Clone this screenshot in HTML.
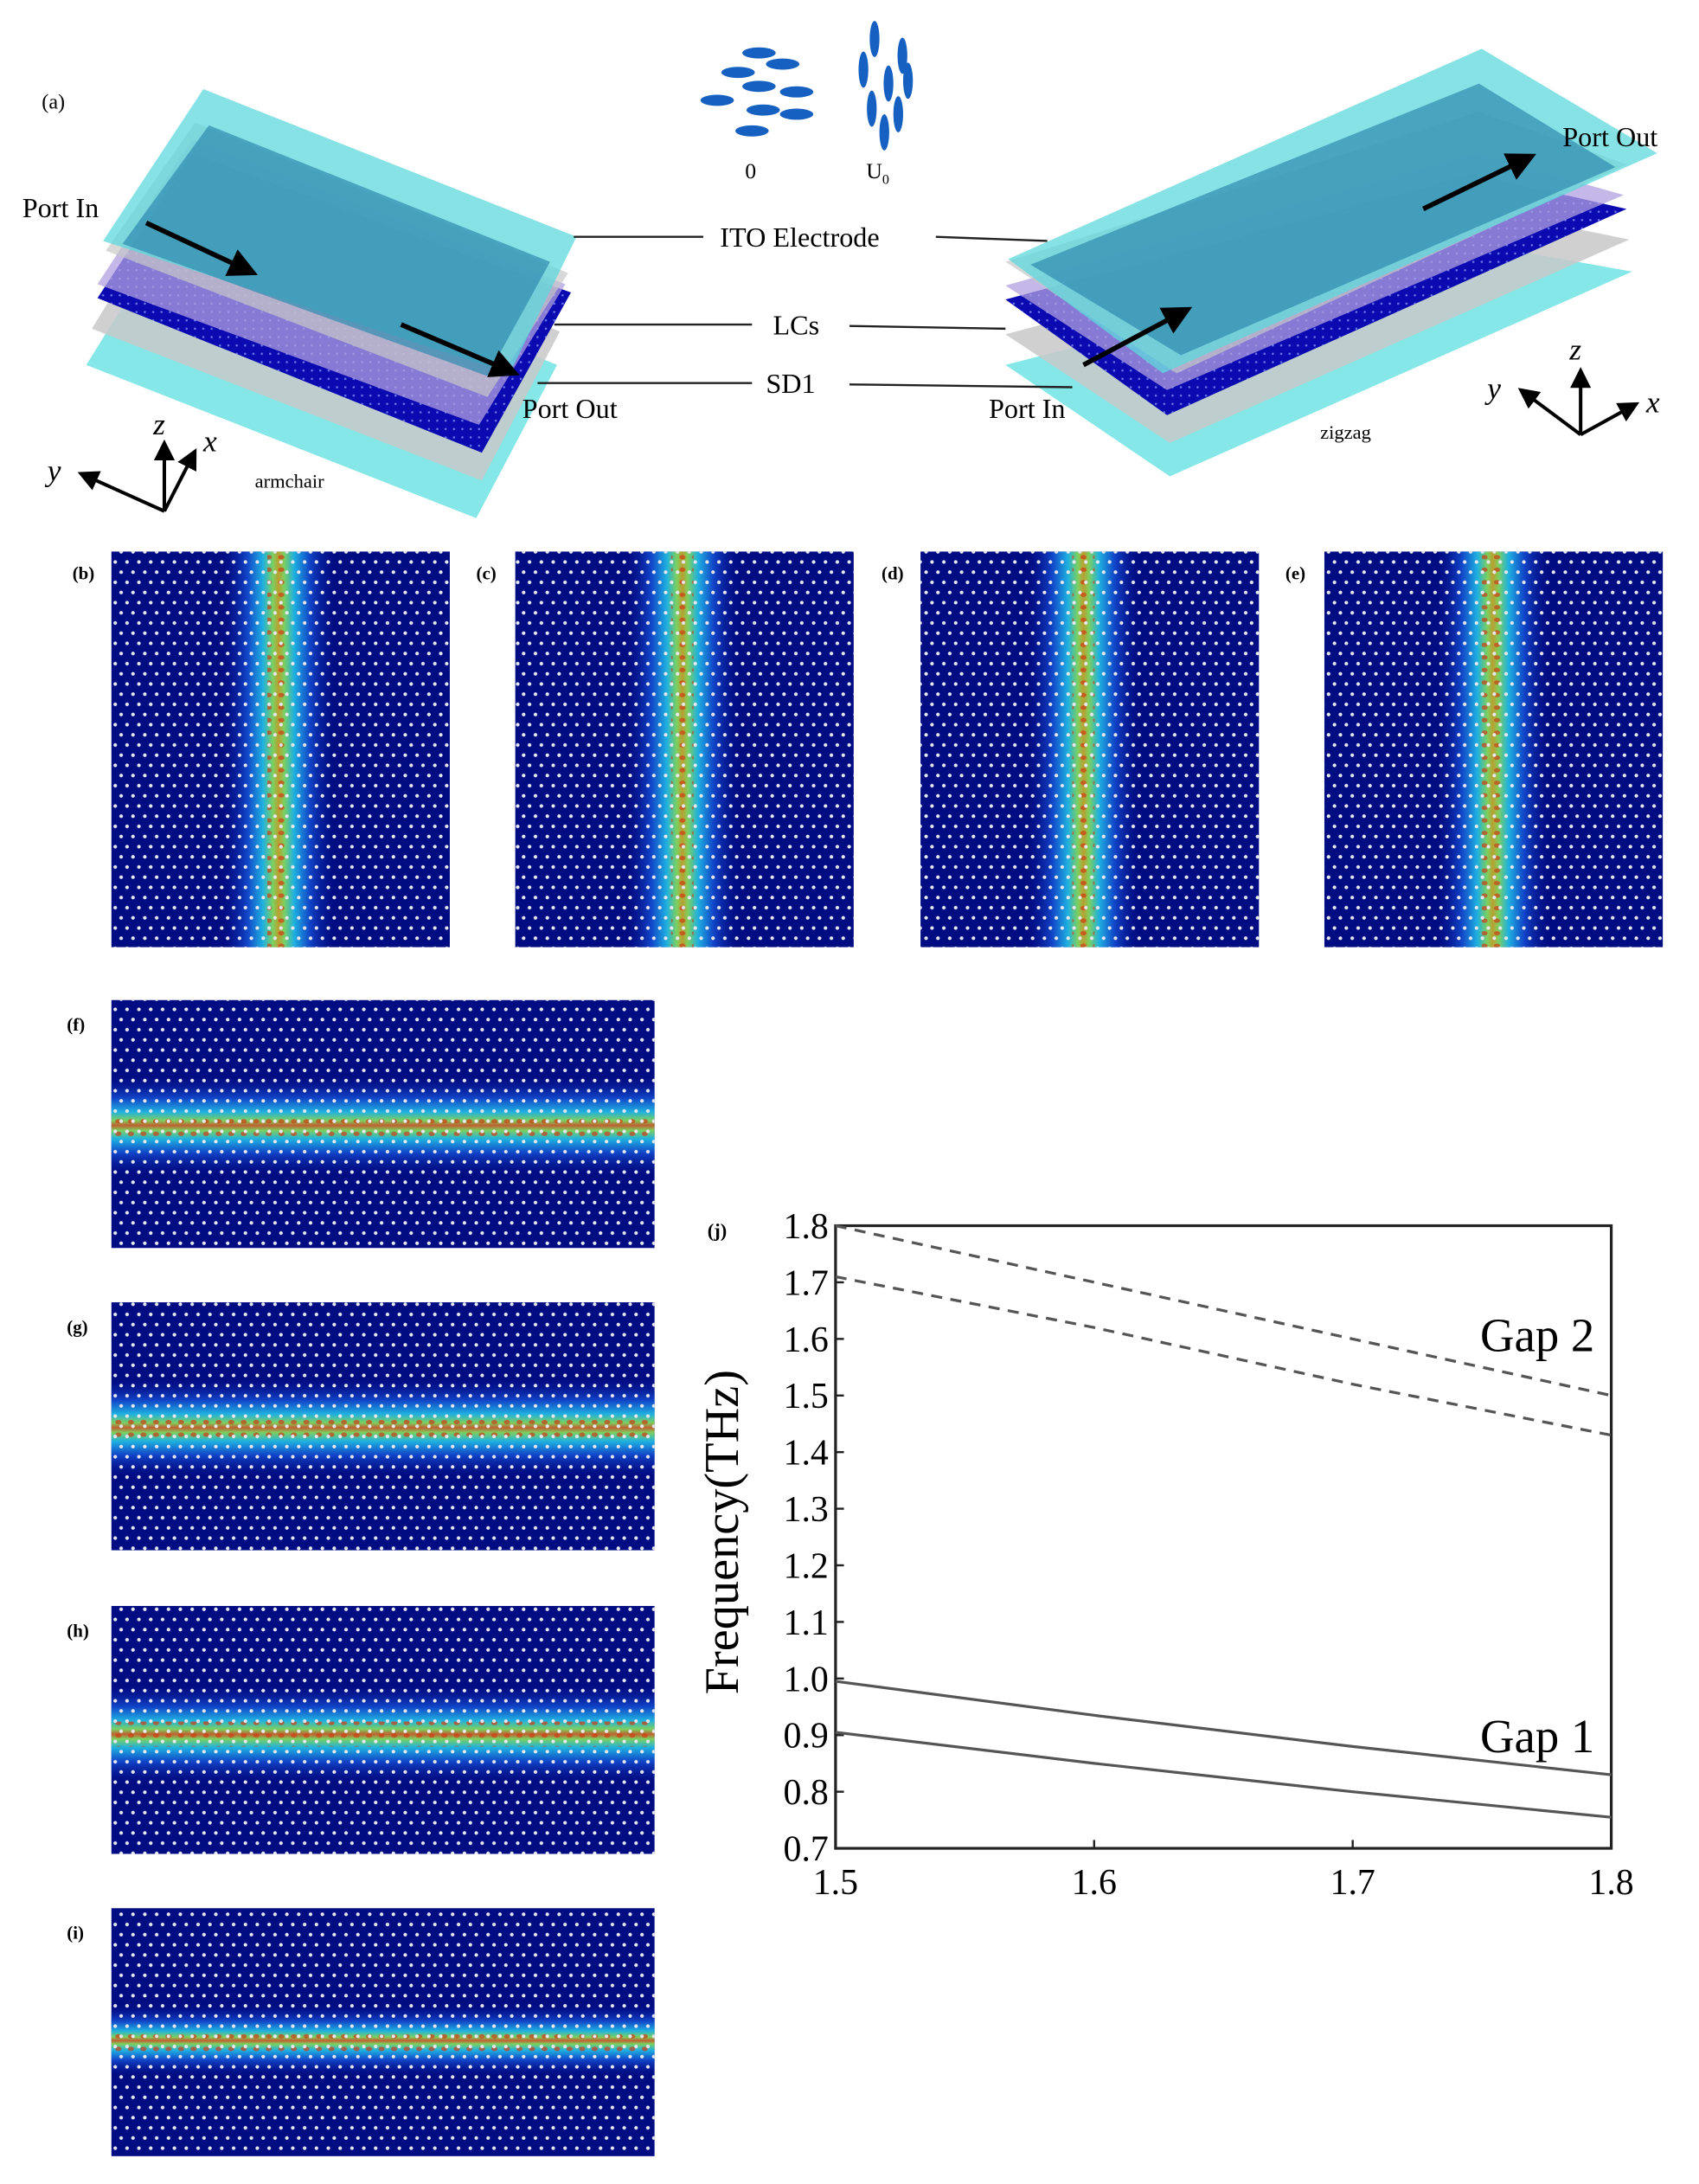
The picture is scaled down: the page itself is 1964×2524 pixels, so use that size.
<!DOCTYPE html>
<html><head><meta charset="utf-8"><style>
html,body{margin:0;padding:0;background:#fff;}
svg{display:block;}
text{font-family:"Liberation Serif",serif;}
</style></head><body>
<svg id="root" width="1964" height="2524" viewBox="0 0 1220 1568" preserveAspectRatio="none" xmlns="http://www.w3.org/2000/svg">
<defs>
  <pattern id="dots" width="8.5" height="14.6" patternUnits="userSpaceOnUse">
    <circle cx="2" cy="2" r="1.3" fill="#e8e8f0"/>
    <circle cx="6.25" cy="9.3" r="1.3" fill="#e8e8f0"/>
  </pattern>
  <pattern id="sdots" width="6" height="6" patternUnits="userSpaceOnUse">
    <circle cx="2" cy="2" r="0.8" fill="#8fa0ff" opacity="0.7"/>
  </pattern>
  <pattern id="speck" width="9" height="9" patternUnits="userSpaceOnUse">
    <ellipse cx="4" cy="4" rx="2.2" ry="1.6" fill="#d03a10" opacity="0.85"/>
  </pattern>
  <linearGradient id="beamV" x1="0" x2="1" y1="0" y2="0">
    <stop offset="0" stop-color="#0a1a9a" stop-opacity="0"/>
    <stop offset="0.22" stop-color="#1145c8"/>
    <stop offset="0.36" stop-color="#1fb0e0"/>
    <stop offset="0.45" stop-color="#7cd060"/>
    <stop offset="0.5" stop-color="#b8a030"/>
    <stop offset="0.55" stop-color="#7cd060"/>
    <stop offset="0.64" stop-color="#1fb0e0"/>
    <stop offset="0.78" stop-color="#1145c8"/>
    <stop offset="1" stop-color="#0a1a9a" stop-opacity="0"/>
  </linearGradient>
  <linearGradient id="beamH" x1="0" x2="0" y1="0" y2="1">
    <stop offset="0" stop-color="#0a1a9a" stop-opacity="0"/>
    <stop offset="0.22" stop-color="#1145c8"/>
    <stop offset="0.36" stop-color="#1fb0e0"/>
    <stop offset="0.45" stop-color="#7cd060"/>
    <stop offset="0.5" stop-color="#c06030"/>
    <stop offset="0.55" stop-color="#7cd060"/>
    <stop offset="0.64" stop-color="#1fb0e0"/>
    <stop offset="0.78" stop-color="#1145c8"/>
    <stop offset="1" stop-color="#0a1a9a" stop-opacity="0"/>
  </linearGradient>
  <marker id="arr" markerWidth="6" markerHeight="6" refX="5" refY="3" orient="auto"><path d="M0,0 L6,3 L0,6 z" fill="#000"/></marker>
</defs>

<!-- Panel (a) -->
<g>
  <text x="30" y="78" font-size="15">(a)</text>
  <g>
    <polygon points="130,152 400,262 342,372 62,262" fill="#7ee6e6" opacity="0.95"/>
    <polygon points="132,128 402,238 346,345 66,236" fill="#c8c8c8" opacity="0.85"/>
    <polygon points="138,110 410,210 346,325 70,214" fill="#0a0ab0"/>
    <polygon points="138,110 410,210 346,325 70,214" fill="url(#sdots)"/>
    <polygon points="138,100 406,204 344,305 70,204" fill="#b0a0e0" opacity="0.75"/>
    <polygon points="140,88 408,196 350,285 76,180" fill="#c8c8c8" opacity="0.7"/>
    <polygon points="146,64 414,170 366,268 74,173" fill="#5fd8dc" opacity="0.75"/>
    <polygon points="150,90 395,188 350,270 88,175" fill="#2f8ab0" opacity="0.7"/>
  </g>
  <g>
    <polygon points="1060,175 1172,195 840,342 722,262" fill="#7ee6e6" opacity="0.95"/>
    <polygon points="1062,150 1170,172 840,318 722,240" fill="#c8c8c8" opacity="0.85"/>
    <polygon points="1058,125 1168,150 838,298 722,215" fill="#0a0ab0"/>
    <polygon points="1058,125 1168,150 838,298 722,215" fill="url(#sdots)"/>
    <polygon points="1060,110 1166,140 838,280 722,205" fill="#b0a0e0" opacity="0.75"/>
    <polygon points="1062,80 1168,118 845,268 722,188" fill="#c8c8c8" opacity="0.7"/>
    <polygon points="1064,35 1190,110 835,268 724,186" fill="#5fd8dc" opacity="0.75"/>
    <polygon points="1062,60 1160,120 848,255 740,190" fill="#2f8ab0" opacity="0.7"/>
  </g>
  <g fill="#1560c0">
    <ellipse cx="545" cy="38" rx="12" ry="4"/><ellipse cx="562" cy="46" rx="12" ry="4"/>
    <ellipse cx="530" cy="52" rx="12" ry="4"/><ellipse cx="545" cy="62" rx="12" ry="4"/>
    <ellipse cx="572" cy="66" rx="12" ry="4"/><ellipse cx="515" cy="72" rx="12" ry="4"/>
    <ellipse cx="548" cy="79" rx="12" ry="4"/><ellipse cx="572" cy="82" rx="12" ry="4"/>
    <ellipse cx="540" cy="94" rx="12" ry="4"/>
  </g>
  <g fill="#1560c0">
    <ellipse cx="628" cy="28" rx="3.5" ry="13"/><ellipse cx="648" cy="40" rx="3.5" ry="13"/>
    <ellipse cx="620" cy="50" rx="3.5" ry="13"/><ellipse cx="638" cy="60" rx="3.5" ry="13"/>
    <ellipse cx="652" cy="58" rx="3.5" ry="13"/><ellipse cx="626" cy="78" rx="3.5" ry="13"/>
    <ellipse cx="645" cy="82" rx="3.5" ry="13"/><ellipse cx="635" cy="95" rx="3.5" ry="13"/>
  </g>
  <text x="535" y="128" font-size="16">0</text>
  <text x="622" y="128" font-size="16">U<tspan font-size="10" dy="4">0</tspan></text>
  <g stroke="#222" stroke-width="1.5">
    <line x1="412" y1="170" x2="505" y2="170"/><line x1="672" y1="170" x2="752" y2="173"/>
    <line x1="398" y1="233" x2="540" y2="233"/><line x1="610" y1="234" x2="722" y2="236"/>
    <line x1="386" y1="275" x2="540" y2="275"/><line x1="610" y1="276" x2="770" y2="278"/>
  </g>
  <text x="517" y="177" font-size="20">ITO Electrode</text>
  <text x="555" y="240" font-size="20">LCs</text>
  <text x="550" y="282" font-size="20">SD1</text>
  <text x="16" y="156" font-size="20">Port In</text>
  <text x="375" y="300" font-size="20">Port Out</text>
  <text x="710" y="300" font-size="20">Port In</text>
  <text x="1122" y="105" font-size="20">Port Out</text>
  <text x="183" y="350" font-size="14">armchair</text>
  <text x="948" y="315" font-size="14">zigzag</text>
  <g stroke="#000" stroke-width="3.5" marker-end="url(#arr)">
    <line x1="105" y1="160" x2="182" y2="196"/>
    <line x1="288" y1="233" x2="370" y2="268"/>
    <line x1="778" y1="262" x2="853" y2="222"/>
    <line x1="1022" y1="150" x2="1100" y2="112"/>
  </g>
  <g stroke="#000" stroke-width="2.5" fill="none">
    <line x1="118" y1="367" x2="118" y2="318" marker-end="url(#arr)"/>
    <line x1="118" y1="367" x2="58" y2="340" marker-end="url(#arr)"/>
    <line x1="118" y1="367" x2="140" y2="324" marker-end="url(#arr)"/>
  </g>
  <text x="110" y="312" font-size="22" font-style="italic">z</text>
  <text x="34" y="345" font-size="22" font-style="italic">y</text>
  <text x="146" y="324" font-size="22" font-style="italic">x</text>
  <g stroke="#000" stroke-width="2.5" fill="none">
    <line x1="1135" y1="312" x2="1135" y2="266" marker-end="url(#arr)"/>
    <line x1="1135" y1="312" x2="1092" y2="280" marker-end="url(#arr)"/>
    <line x1="1135" y1="312" x2="1175" y2="290" marker-end="url(#arr)"/>
  </g>
  <text x="1127" y="258" font-size="22" font-style="italic">z</text>
  <text x="1068" y="286" font-size="22" font-style="italic">y</text>
  <text x="1182" y="296" font-size="22" font-style="italic">x</text>
</g>

<g id="fields"></g>

<g id="chart">
  <text x="508" y="888" font-size="14" font-weight="bold">(j)</text>
  <text transform="translate(530,1100) rotate(-90)" font-size="35" text-anchor="middle">Frequency(THz)</text>
</g>

<script>
var NS = "http://www.w3.org/2000/svg";
function mk(parent, tag, attrs) {
  var e = document.createElementNS(NS, tag);
  for (var k in attrs) e.setAttribute(k, attrs[k]);
  parent.appendChild(e);
  return e;
}
var xValues = [1.5, 1.6, 1.7, 1.8];
var gap2Upper = [1.80, 1.70, 1.60, 1.50];
var gap2Lower = [1.71, 1.62, 1.52, 1.43];
var gap1Upper = [0.995, 0.935, 0.88, 0.83];
var gap1Lower = [0.905, 0.85, 0.80, 0.755];
var yTicks = [0.7, 0.8, 0.9, 1.0, 1.1, 1.2, 1.3, 1.4, 1.5, 1.6, 1.7, 1.8];
var yTickLabels = ["0.7","0.8","0.9","1.0","1.1","1.2","1.3","1.4","1.5","1.6","1.7","1.8"];
var xTicks = [1.5, 1.6, 1.7, 1.8];
var xTickLabels = ["1.5","1.6","1.7","1.8"];

var PL = 600, PR = 1157, PT = 880, PB = 1327;
function sx(v) { return PL + (v - 1.5) / 0.3 * (PR - PL); }
function sy(v) { return PB - (v - 0.7) / 1.1 * (PB - PT); }

var chart = document.getElementById('chart');
var frame = mk(chart, 'rect', {x: PL, y: PT, width: PR - PL, height: PB - PT, fill: 'none', stroke: '#222', 'stroke-width': 2});


yTicks.forEach(function (t, i) {
  var y = sy(t);
  var tk = mk(chart, 'line', {x1: PL, x2: PL + 6, y1: y, y2: y, stroke: '#222', 'stroke-width': 1.5});
  
  
  var tl = mk(chart, 'text', {x: PL - 5, y: y + 9, 'font-size': 26, 'text-anchor': 'end'});
  tl.textContent = yTickLabels[i];
  
  
});
xTicks.forEach(function (t, i) {
  var x = sx(t);
  var tk = mk(chart, 'line', {x1: x, x2: x, y1: PB, y2: PB - 6, stroke: '#222', 'stroke-width': 1.5});
  
  
  var tl = mk(chart, 'text', {x: x, y: PB + 33, 'font-size': 26, 'text-anchor': 'middle'});
  tl.textContent = xTickLabels[i];
  
  
});
function series(vals, dashed, name) {
  var d = vals.map(function (v, i) { return (i ? 'L' : 'M') + sx(xValues[i]).toFixed(1) + ',' + sy(v).toFixed(1); }).join(' ');
  var p = mk(chart, 'path', {d: d, fill: 'none', stroke: '#555', 'stroke-width': 2, 'stroke-dasharray': dashed ? '8,6' : 'none'});
  
  
}
series(gap2Upper, true, 'gap2-upper-line');
series(gap2Lower, true, 'gap2-lower-line');
series(gap1Upper, false, 'gap1-upper-line');
series(gap1Lower, false, 'gap1-lower-line');
var g2 = mk(chart, 'text', {x: 1145, y: 970, 'font-size': 34, 'text-anchor': 'end'});
g2.textContent = 'Gap 2';


var g1 = mk(chart, 'text', {x: 1145, y: 1258, 'font-size': 34, 'text-anchor': 'end'});
g1.textContent = 'Gap 1';



var fields = document.getElementById('fields');
var vPanels = [
  {lab: '(b)', x: 80, c: 200},
  {lab: '(c)', x: 370, c: 490},
  {lab: '(d)', x: 661, c: 778},
  {lab: '(e)', x: 951, c: 1072}
];
vPanels.forEach(function (p) {
  var g = mk(fields, 'g', {});
  
  
  mk(g, 'rect', {x: p.x, y: 396, width: 243, height: 284, fill: '#000c82'});
  mk(g, 'rect', {x: p.c - 40, y: 396, width: 80, height: 284, fill: 'url(#beamV)'});
  mk(g, 'rect', {x: p.c - 8, y: 396, width: 16, height: 284, fill: 'url(#speck)', opacity: 0.8});
  mk(g, 'rect', {x: p.x, y: 396, width: 243, height: 284, fill: 'url(#dots)'});
  var t = mk(g, 'text', {x: p.x - 28, y: 416, 'font-size': 13, 'font-weight': 'bold'});
  t.textContent = p.lab;
});
var hPanels = [
  {lab: '(f)', y: 718, c: 808, w: 70},
  {lab: '(g)', y: 935, c: 1025, w: 70},
  {lab: '(h)', y: 1153, c: 1245, w: 70},
  {lab: '(i)', y: 1370, c: 1465, w: 50}
];
hPanels.forEach(function (p) {
  var g = mk(fields, 'g', {});
  
  
  mk(g, 'rect', {x: 80, y: p.y, width: 390, height: 178, fill: '#000c82'});
  mk(g, 'rect', {x: 80, y: p.c - p.w / 2, width: 390, height: p.w, fill: 'url(#beamH)'});
  mk(g, 'rect', {x: 80, y: p.c - 9, width: 390, height: 18, fill: 'url(#speck)', opacity: 0.8});
  mk(g, 'rect', {x: 80, y: p.y, width: 390, height: 178, fill: 'url(#dots)'});
  var t = mk(g, 'text', {x: 48, y: p.y + 22, 'font-size': 13, 'font-weight': 'bold'});
  t.textContent = p.lab;
});
</script>
</svg>
</body></html>
